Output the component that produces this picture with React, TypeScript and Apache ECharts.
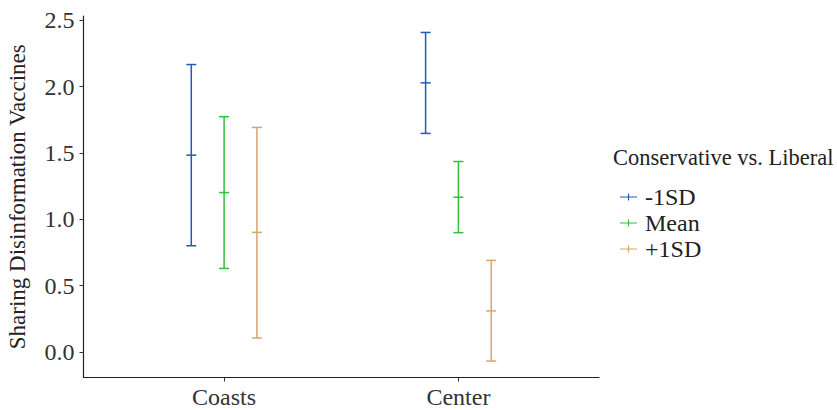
import React, { useEffect, useRef } from "react";
import * as echarts from "echarts";

const categories = ["Coasts", "Center"];
const groups = ["-1SD", "Mean", "+1SD"];
const colors = ["#1f5bc0", "#30c03c", "#d8a46e"];
// per group: values for [Coasts, Center]
const means = [
  [1.484, 2.029],
  [1.202, 1.167],
  [0.902, 0.31],
];
const lows = [
  [0.801, 1.648],
  [0.63, 0.9],
  [0.106, -0.068],
];
const highs = [
  [2.167, 2.409],
  [1.774, 1.436],
  [1.693, 0.691],
];
const yTicks = [0, 0.5, 1, 1.5, 2, 2.5];
const dodge = [-0.14, 0, 0.14];

const FONT = "Liberation Serif, serif";

export default function App() {
  const ref = useRef<HTMLDivElement>(null);
  useEffect(() => {
    if (!ref.current) return;
    document.body.style.margin = "0";
    const chart = echarts.init(ref.current, undefined, { renderer: "svg" });
    const series = groups.map((g, gi) => ({
      type: "custom",
      name: g,
      data: categories.map((_, ci) => [ci + 1 + dodge[gi], lows[gi][ci], means[gi][ci], highs[gi][ci]]),
      encode: { x: 0, y: [1, 2, 3] },
      itemStyle: { color: colors[gi] },
      renderItem: (params: any, api: any) => {
        const x = api.value(0);
        const lo = api.coord([x, api.value(1)]);
        const mid = api.coord([x, api.value(2)]);
        const hi = api.coord([x, api.value(3)]);
        const cw = 5;
        const style = { stroke: colors[gi], lineWidth: 1.5, fill: "none" };
        return {
          type: "group",
          children: [
            { type: "line", shape: { x1: lo[0], y1: lo[1], x2: hi[0], y2: hi[1] }, style },
            { type: "line", shape: { x1: lo[0] - cw, y1: lo[1], x2: lo[0] + cw, y2: lo[1] }, style },
            { type: "line", shape: { x1: hi[0] - cw, y1: hi[1], x2: hi[0] + cw, y2: hi[1] }, style },
            { type: "line", shape: { x1: mid[0] - cw, y1: mid[1], x2: mid[0] + cw, y2: mid[1] }, style },
          ],
        };
      },
    }));
    chart.setOption({
      animation: false,
      textStyle: { fontFamily: FONT },
      grid: { left: 83.5, right: 238, top: 16, bottom: 32.5, containLabel: false, outerBoundsMode: "none" },
      xAxis: {
        type: "value",
        min: 0.4,
        max: 2.6,
        splitLine: { show: false },
        axisLine: { show: true, onZero: false, lineStyle: { color: "#222", width: 1.2 } },
        axisTick: { show: true, customValues: [1, 2], length: 4, lineStyle: { color: "#333" } },
        axisLabel: {
          customValues: [1, 2],
          formatter: (v: number) => categories[Math.round(v) - 1] ?? "",
          fontFamily: FONT,
          fontSize: 24,
          color: "#333",
          margin: 7,
        },
      },
      yAxis: {
        type: "value",
        min: -0.192,
        max: 2.533,
        name: "Sharing Disinformation Vaccines",
        nameLocation: "middle",
        nameGap: 55,
        nameTextStyle: { fontFamily: FONT, fontSize: 23, color: "#222" },
        splitLine: { show: false },
        axisLine: { show: true, onZero: false, lineStyle: { color: "#222", width: 1.2 } },
        axisTick: { show: true, customValues: yTicks, length: 4, lineStyle: { color: "#333" } },
        axisLabel: {
          customValues: yTicks,
          formatter: (v: number) => v.toFixed(1),
          fontFamily: FONT,
          fontSize: 24,
          color: "#333",
          margin: 9,
        },
      },
      legend: {
        orient: "vertical",
        left: 615,
        top: 180,
        itemWidth: 17,
        itemHeight: 10,
        itemGap: 2,
        data: groups.map((g, gi) => ({
          name: g,
          icon: "path://M0,4.4h17v1.2h-17z M7.9,1.5h1.2v7h-1.2z",
          itemStyle: { color: colors[gi] },
        })),
        textStyle: { fontFamily: FONT, fontSize: 24, color: "#222", padding: [0, 0, 0, 3] },
      },
      graphic: [
        {
          type: "text",
          left: 613,
          top: 146,
          style: { text: "Conservative vs. Liberal", fontFamily: FONT, fontSize: 22.5, fill: "#222" },
        },
      ],
      series,
    });
    return () => chart.dispose();
  }, []);
  return <div ref={ref} style={{ width: 837, height: 410 }} />;
}
